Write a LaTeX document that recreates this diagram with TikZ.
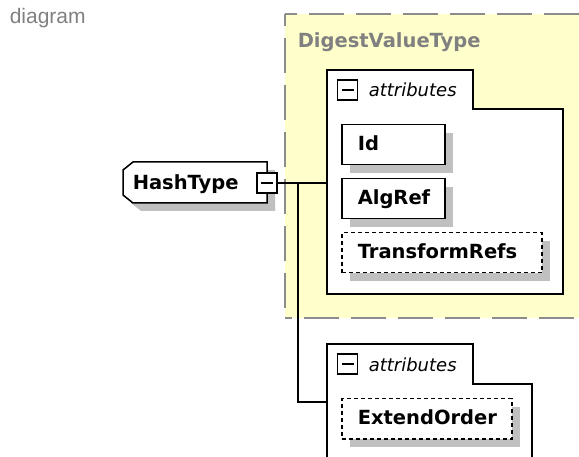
\documentclass[tikz,border=0pt]{standalone}
\usepackage{fontspec}
\setmainfont{DejaVu Sans}
\newfontfamily\captionfont{Liberation Sans}
\usetikzlibrary{shadows}
\definecolor{groupfill}{HTML}{FFFFCC}
\definecolor{groupedge}{HTML}{8C8C8C}
\definecolor{grouptext}{HTML}{808080}
\definecolor{shadowgray}{HTML}{C0C0C0}
\begin{document}
\begin{tikzpicture}[x=1pt, y=-1pt, line width=1.5pt,
  labelfont/.style={font=\fontsize{19.5}{22}\selectfont\bfseries},
  elem/.style={labelfont, draw=black, fill=white, anchor=north west,
    align=left, inner xsep=16pt, inner ysep=11pt,
    text height=15pt, text depth=3pt,
    drop shadow={shadow xshift=8pt, shadow yshift=-8pt, fill=shadowgray, opacity=1}},
  optional/.style={dash pattern=on 4pt off 3pt},
  toggle/.style={draw=black, fill=white, minimum size=20pt, inner sep=0pt,
    path picture={\draw[line width=1.5pt]
      ([xshift=4pt]path picture bounding box.west) --
      ([xshift=-4pt]path picture bounding box.east);}},
  attrbox/.style={draw=black, fill=white, line width=1.5pt},
  attrlabel/.style={anchor=base west, inner sep=0pt,
    font=\fontsize{18}{20}\selectfont\itshape},
  groupline/.style={draw=groupedge, line width=2pt, dash pattern=on 35pt off 12pt},
  wire/.style={draw=black, line width=1.5pt}
]
\useasboundingbox (0,0) rectangle (579,457);

% caption
\node[anchor=base west, inner sep=0pt, text=grouptext,
  font=\captionfont\fontsize{21}{24}\selectfont] (caption) at (9,24) {diagram};

% DigestValueType group
\fill[groupfill] (285,14) rectangle (600,318);
\draw[groupline, dash phase=23pt] (285,14) -- (600,14);
\draw[groupline, dash phase=23pt] (285,14) -- (285,318);
\draw[groupline, dash phase=28pt] (285,318) -- (600,318);
\node[labelfont, text=grouptext, anchor=base west, inner sep=0pt] (grouptitle)
  at (297,48) {DigestValueType};

% HashType element with its shadow
\fill[fill=shadowgray, shift={(8,8)}] (133,162) -- (267,162) -- (267,203) -- (133,203)
  -- (123,195) -- (123,170) -- cycle;
\draw[fill=white] (133,162) -- (267,162) -- (267,203) -- (133,203)
  -- (123,195) -- (123,170) -- cycle;
\node[labelfont, anchor=base west, inner sep=0pt] (hash) at (132,190) {HashType};
\node[toggle] (hashtog) at (267,183) {};

% first attribute group
\draw[attrbox] (327,70) -- (473,70) -- (473,109) -- (563,109) -- (563,294)
  -- (327,294) -- cycle;
\node[toggle] (togA) at (347.5,90) {};
\node[attrlabel] (labA) at (368,97) {attributes};
\coordinate (entryA) at (327,183);

\node[elem, text width=71pt] (id) at (341,124) {Id};
\node[elem, text width=71pt] (algref) at (341,178) {AlgRef};
\node[elem, optional, text width=168pt] (trefs) at (341,232) {TransformRefs};

% second attribute group
\draw[attrbox] (327,344) -- (473,344) -- (473,384) -- (532,384) -- (532,470)
  -- (327,470) -- cycle;
\node[toggle] (togB) at (347.5,364) {};
\node[attrlabel] (labB) at (368,371) {attributes};
\coordinate (entryB) at (327,402);

\node[elem, optional, text width=138pt] (extorder) at (341,398) {ExtendOrder};

% connectors
\coordinate (fork) at (298,183);
\draw[wire] (hashtog.east) -- (entryA);
\draw[wire] (fork) |- (entryB);
\end{tikzpicture}
\end{document}
